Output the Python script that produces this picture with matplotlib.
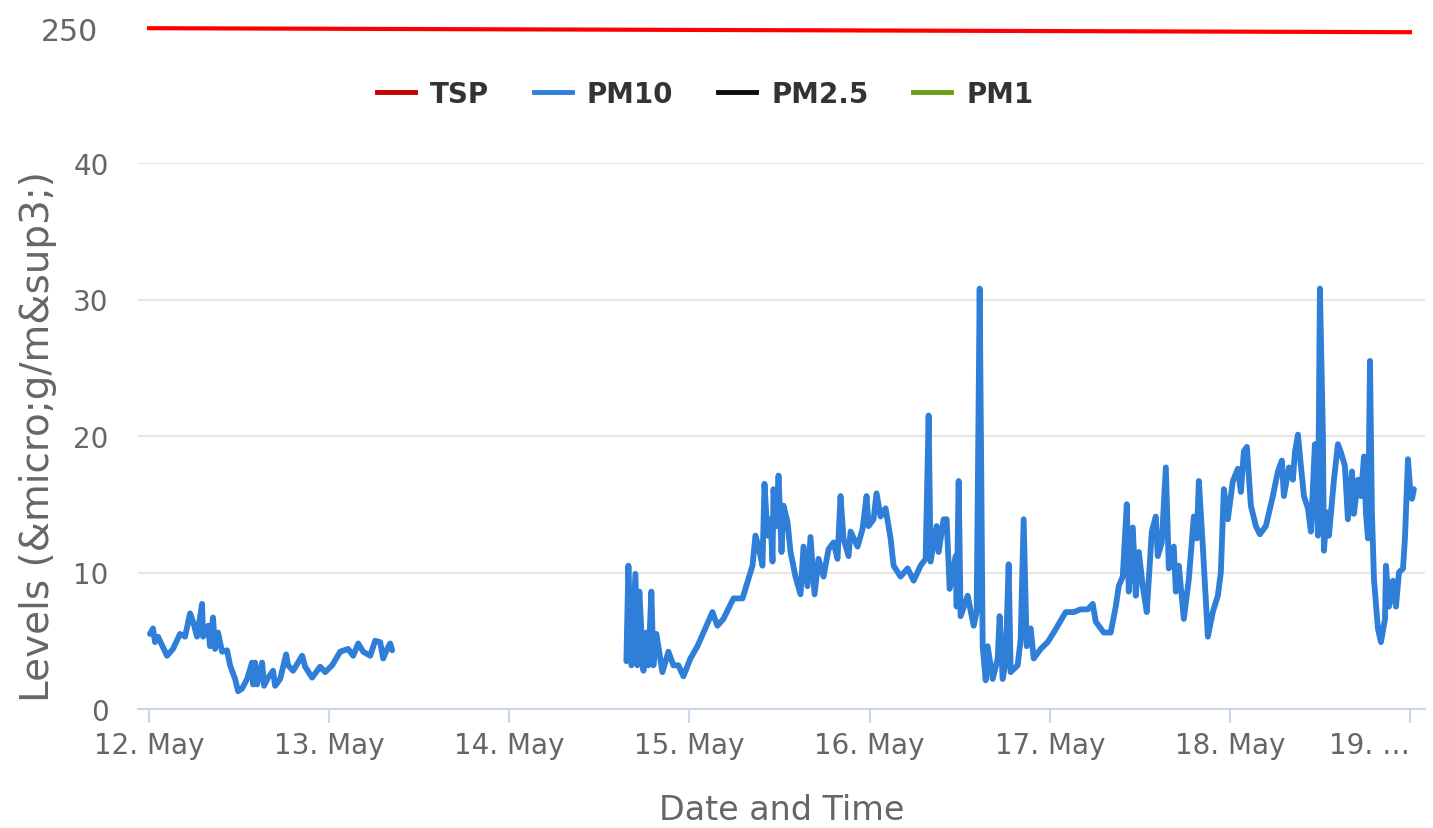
import matplotlib.pyplot as plt
import matplotlib.dates as mdates
from matplotlib.lines import Line2D
import numpy as np
import pandas as pd

# hours since 12 May 00:00
pm10_hours_a = [0.13, 0.53, 0.8, 1.2, 2.4, 3.2, 4.13, 4.8, 5.47, 5.87, 6.4, 7.07, 7.2, 7.87, 8.13,
                8.53, 8.8, 9.2, 9.73, 10.4, 10.8, 11.47, 11.87, 12.4, 13.07, 13.73, 13.87, 14.13,
                14.4, 15.07, 15.33, 15.87, 16.53, 16.8, 17.47, 18.27, 18.53, 19.2, 20.4, 20.8,
                21.73, 22.8, 23.47, 24.4, 25.47, 26.53, 27.2, 27.87, 28.53, 29.47, 30.13, 30.8,
                31.2, 31.73, 32.13, 32.4]
pm10_vals_a = [5.5, 5.9, 4.9, 5.3, 3.9, 4.4, 5.5, 5.3, 7.0, 6.4, 5.3, 7.7, 5.3, 6.1, 4.6,
               6.7, 4.4, 5.6, 4.2, 4.3, 3.2, 2.2, 1.3, 1.5, 2.2, 3.4, 1.8, 3.4,
               1.8, 3.4, 1.7, 2.3, 2.8, 1.7, 2.2, 4.0, 3.2, 2.8, 3.9, 3.1,
               2.3, 3.1, 2.7, 3.2, 4.2, 4.4, 3.9, 4.8, 4.2, 3.9, 5.0, 4.9,
               3.7, 4.4, 4.8, 4.3]

pm10_hours_b = [63.6, 63.87, 64.27, 64.8, 65.07, 65.33, 65.87, 66.27, 66.53, 66.93, 67.2, 67.6,
                68.4, 69.2, 69.87, 70.53, 71.2, 72.13, 73.07, 73.87, 75.07, 75.73, 76.53, 77.87,
                79.07, 79.73, 80.4, 80.8, 81.2, 81.73, 82.0, 82.4, 82.8, 83.07, 83.2, 83.6,
                83.87, 84.27, 84.53, 85.07, 85.47, 86.13, 86.8, 87.2, 87.73, 88.13, 88.67, 89.2,
                89.87, 90.53, 91.2, 91.73, 92.13, 92.53, 93.2, 93.47, 94.4, 95.07, 95.6, 95.87,
                96.53, 96.93, 97.47, 98.13, 98.8, 99.2, 100.13, 101.07, 101.87, 102.8, 103.47,
                103.87, 104.13, 104.93, 105.2, 105.87, 106.27, 106.67, 107.47, 107.6, 107.87,
                108.13, 109.07, 109.87, 110.27, 110.67, 111.07, 111.47, 111.73, 112.4, 113.07,
                113.33, 113.73, 114.13, 114.53, 114.8, 115.73, 116.13, 116.53, 116.93, 117.47,
                117.87, 118.8, 119.73, 120.53, 122.13, 123.2, 124.13, 125.07, 125.73, 126.13,
                127.2, 128.13, 128.8, 129.2, 129.73, 130.27, 130.53, 131.07, 131.47, 131.87,
                132.4, 132.93, 133.6, 134.13, 134.4, 134.93, 135.47, 135.87, 136.53, 136.8,
                137.2, 137.87, 138.53, 139.2, 139.6, 139.87, 140.4, 141.07, 141.73, 142.4,
                142.8, 143.2, 143.73, 144.4, 145.07, 145.47, 145.87, 146.27, 146.8, 147.47,
                148.0, 148.8, 149.73, 150.4, 150.93, 151.2, 151.87, 152.4, 152.67, 153.07,
                153.47, 153.87, 154.4, 154.8, 155.33, 155.73, 156.0, 156.4, 156.53, 156.93,
                157.2, 157.87, 158.4, 158.8, 159.33, 159.73, 160.27, 160.53, 161.07, 161.47,
                161.87, 162.13, 162.4, 162.67, 162.93, 163.2, 163.73, 164.13, 164.67, 164.8,
                165.2, 165.73, 166.13, 166.53, 167.07, 167.33, 167.73, 168.0, 168.27, 168.53]
pm10_vals_b = [3.5, 10.5, 3.2, 9.9, 3.2, 8.6, 2.8, 5.6, 3.2, 8.6, 3.2, 5.5,
               2.7, 4.2, 3.2, 3.2, 2.4, 3.7, 4.6, 5.6, 7.1, 6.1, 6.6, 8.1,
               8.1, 9.3, 10.5, 12.7, 11.9, 10.5, 16.5, 12.7, 13.9, 10.8, 16.1, 13.4,
               17.1, 11.5, 14.9, 13.7, 11.5, 9.7, 8.4, 11.9, 9.0, 12.6, 8.4, 11.0,
               9.7, 11.7, 12.2, 11.0, 15.6, 12.5, 11.2, 13.0, 11.9, 13.2, 15.6, 13.4,
               13.9, 15.8, 14.1, 14.7, 12.5, 10.5, 9.7, 10.3, 9.4, 10.5, 11.0,
               21.5, 10.8, 13.4, 11.5, 13.9, 13.9, 8.8, 11.2, 7.5, 16.7,
               6.8, 8.3, 6.1, 7.1, 30.8, 4.6, 2.1, 4.6, 2.2, 3.7,
               6.8, 2.2, 3.4, 10.6, 2.7, 3.2, 5.1, 13.9, 4.6, 5.9,
               3.7, 4.4, 4.9, 5.6, 7.1, 7.1, 7.3, 7.3, 7.7, 6.4,
               5.6, 5.6, 7.5, 9.0, 9.7, 15.0, 8.6, 13.3, 8.3, 11.5,
               9.0, 7.1, 13.0, 14.1, 11.2, 12.2, 17.7, 10.3, 11.9, 8.6,
               10.5, 6.6, 9.5, 14.1, 12.5, 16.7, 11.9, 5.3, 7.1, 8.3,
               10.0, 16.1, 13.9, 16.7, 17.6, 15.9, 18.9, 19.2, 14.9, 13.4,
               12.8, 13.4, 15.6, 17.4, 18.2, 15.6, 17.7, 16.8, 18.8, 20.1,
               17.8, 15.6, 14.7, 13.0, 19.4, 12.7, 30.8, 20.0, 11.6, 14.4,
               12.7, 16.8, 19.4, 18.8, 17.8, 13.9, 17.4, 14.3, 16.8, 15.6,
               18.5, 14.4, 12.5, 25.5, 14.4, 9.5, 5.9, 4.9, 6.6, 10.5,
               7.5, 9.4, 7.5, 10.0, 10.3, 12.5, 18.3, 16.3, 15.4, 16.1]

tsp_hours = [0, 168]
tsp_vals = [250.1, 249.6]

series_names = ["TSP", "PM10", "PM2.5", "PM1"]
series_colors = ["#c00000", "#2f7ed8", "#0d0d0d", "#6a9e14"]
tick_labels = ["12. May", "13. May", "14. May", "15. May", "16. May", "17. May", "18. May", "19. …"]

start = pd.Timestamp("2020-05-12")
to_dates = lambda h: mdates.date2num(start + pd.to_timedelta(np.array(h), unit="h"))

fig = plt.figure(figsize=(14.33, 8.29), dpi=100)
ax = fig.add_axes([138 / 1433, 1 - 710 / 829, (1425 - 138) / 1433, (710 - 164) / 829])

label_col = "#666666"
axis_col = "#ccd6eb"

# data with a gap between the two runs
for hrs, vals in [(pm10_hours_a, pm10_vals_a), (pm10_hours_b, pm10_vals_b)]:
    ax.plot(to_dates(hrs), vals, color=series_colors[1], lw=4.2,
            solid_joinstyle="round", solid_capstyle="round")

x0 = mdates.date2num(start) - 11 / 180
x1 = mdates.date2num(start) + 7 + 15 / 180
ax.set_xlim(x0, x1)
ax.set_ylim(0, 40)

ticks = [mdates.date2num(start + pd.Timedelta(days=i)) for i in range(len(tick_labels))]
ax.set_xticks(ticks)
ax.set_xticklabels(tick_labels)
ax.get_xticklabels()[-1].set_ha("right")
ax.get_xticklabels()[-1].set_x(ticks[-1] + 0.02)
ax.set_yticks([0, 10, 20, 30, 40])

ax.tick_params(axis="x", colors=axis_col, length=10, width=1.5, labelcolor=label_col,
               labelsize=20, pad=6)
ax.tick_params(axis="y", length=0, labelcolor=label_col, labelsize=20, pad=21)

for s in ["top", "right", "left"]:
    ax.spines[s].set_visible(False)
ax.spines["bottom"].set_color(axis_col)
ax.spines["bottom"].set_linewidth(1.5)

ax.grid(axis="y", color="#e6e6e6", lw=1.5)
ax.set_axisbelow(True)

ax.set_xlabel("Date and Time", fontsize=24, color=label_col, labelpad=24)
ax.set_ylabel("Levels (&micro;g/m&sup3;)", fontsize=28, color=label_col, labelpad=12)

# top pane for TSP
top = fig.add_axes([138 / 1433, 1 - 50 / 829, (1425 - 138) / 1433, 40 / 829])
top.plot(to_dates(tsp_hours), tsp_vals, color="#ff0000", lw=3)
top.set_xlim(x0, x1)
top.set_ylim(247.5, 252.5)
top.set_yticks([250])
top.set_xticks([])
top.tick_params(axis="y", length=0, labelcolor=label_col, labelsize=21.5, pad=29)
for s in top.spines.values():
    s.set_visible(False)

handles = [Line2D([], [], color=c, lw=3.5) for c in series_colors]
fig.legend(handles, series_names, loc="center", bbox_to_anchor=(0.492, 1 - 95 / 829), ncol=4,
           frameon=False, handlelength=1.37, columnspacing=1.6, handletextpad=0.55,
           prop={"weight": "bold", "size": 20}, labelcolor="#333333")

fig.savefig("out.png", dpi=100)
